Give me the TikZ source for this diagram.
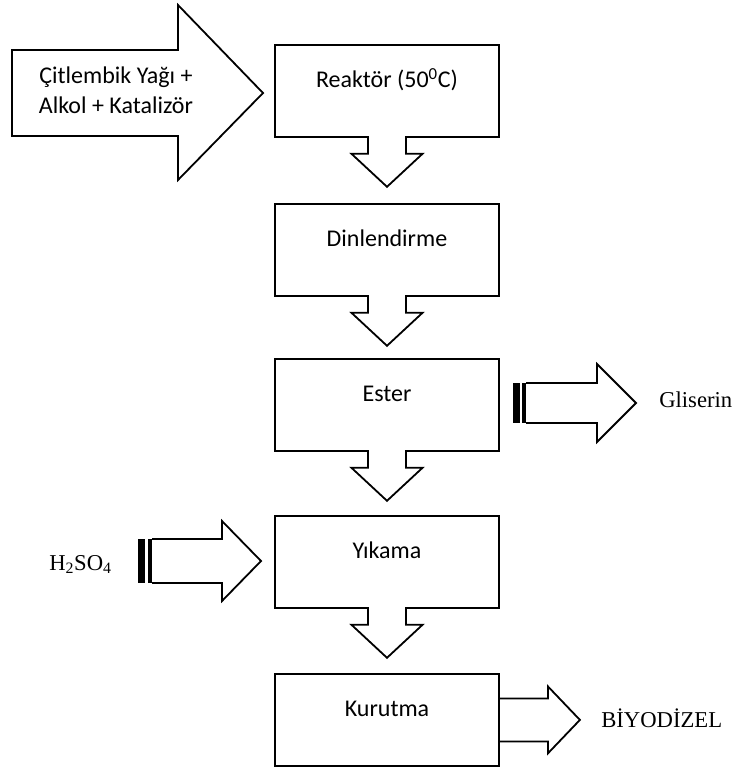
\documentclass[tikz,border=0pt]{standalone}
\usepackage{fontspec}
\setmainfont{Liberation Serif}
\newfontfamily\kutufont{Carlito}
\usetikzlibrary{calc}

\tikzset{
  kutu/.style={draw, line width=1.35pt, rectangle, anchor=north,
    minimum width=168pt, inner xsep=0pt, inner ysep=0pt,
    text height=32.25pt, text depth=36.75pt,
    font=\kutufont\fontsize{18}{22}\selectfont},
  blokok/.style={draw, fill=white, line width=1.35pt, line join=miter},
  serifyazi/.style={inner sep=0.75pt, font=\fontsize{17}{21}\selectfont},
}

\begin{document}
\begin{tikzpicture}[x=0.75pt,y=0.75pt,yscale=-1,xscale=1]
\useasboundingbox (0,0) rectangle (736,769);

% Process boxes
\node[kutu] (reaktor) at (387,44) {Reaktör (50\textsuperscript{0}C)};
\node[kutu] (dinlen) at (387,203) {Dinlendirme};
\node[kutu] (ester) at (387,358) {Ester};
\node[kutu] (yikama) at (387,515) {Yıkama};
\node[kutu] (kurutma) at (387,673) {Kurutma};

% Down block arrows
\foreach \k in {reaktor,dinlen,ester,yikama}
  \draw[blokok] ($(\k.south)+(-19,-1.8)$) -- ++(0,17.8) -- ++(-16.5,0)
    -- ++(35.5,33) -- ++(35.5,-33) -- ++(-16.5,0) -- ++(0,-17.8);

%Shape: Right Arrow (input)
\draw[blokok] (12,50) -- (178,50) -- (178,5) -- (263,93) -- (178,180)
  -- (178,136) -- (12,136) -- cycle;
% Text Node
\node[align=center, inner sep=0.75pt, font=\kutufont\fontsize{18}{22.5}\selectfont]
  (girdi) at (116,90) {Çitlembik Yağı +\\Alkol + Katalizör};

%Shape: Striped Right Arrow (Gliserin)
\fill (513,383) rectangle (519.5,423);
\fill (522,383) rectangle (526.5,423);
\draw[blokok] (526,383) -- (597,383) -- (597,364) -- (636,403) -- (597,442)
  -- (597,423) -- (526,423);
% Text Node
\node[serifyazi, anchor=base west] (gliserin) at (658,407) {Gliserin};

%Shape: Striped Right Arrow (H2SO4)
\fill (138,539) rectangle (145,583);
\fill (148,539) rectangle (152.5,583);
\draw[blokok] (152,539) -- (222,539) -- (222,521) -- (261,561) -- (222,601)
  -- (222,583) -- (152,583);
% Text Node
\node[serifyazi, anchor=base west] (asit) at (48,570) {H\textsubscript{2}SO\textsubscript{4}};

%Shape: Right Arrow (output)
\draw[blokok, fill=none] (kurutma.east) ++(0,-21.5) -- ++(48,0) -- ++(0,-12)
  -- ++(32,33.5) -- ++(-32,33.5) -- ++(0,-12) -- ++(-48,0);
% Text Node
\node[serifyazi, anchor=base west] (biyodizel) at (600,727) {BİYODİZEL};

\end{tikzpicture}
\end{document}
